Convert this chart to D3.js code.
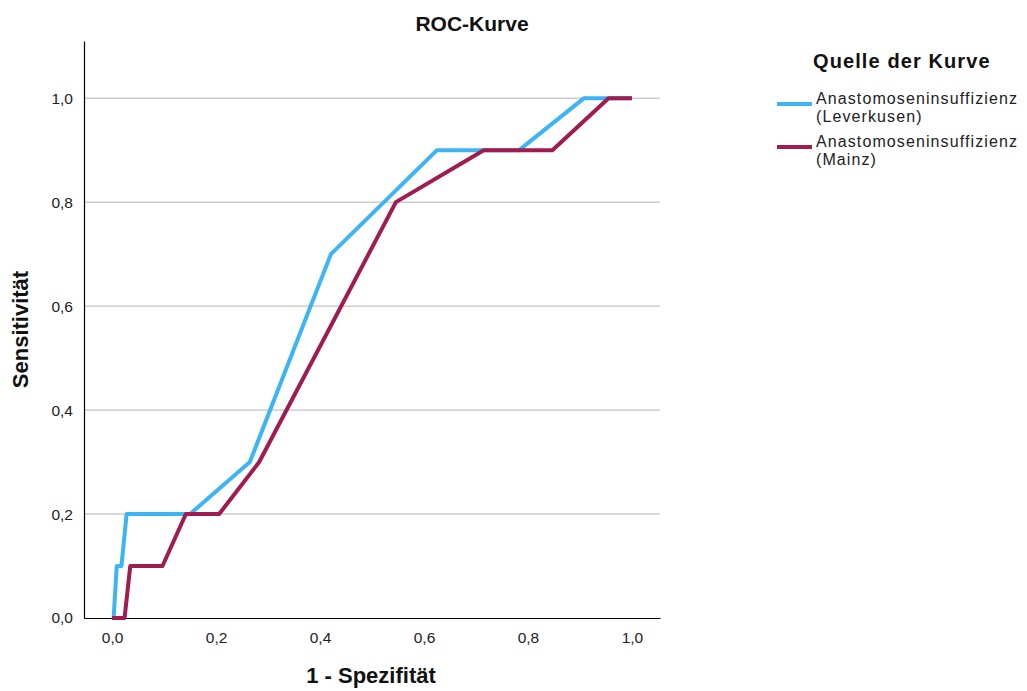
<!DOCTYPE html>
<html>
<head>
<meta charset="utf-8">
<script src="https://cdn.jsdelivr.net/npm/d3@7"></script>
<style>
  html, body { margin: 0; padding: 0; background: #fff; }
  svg { display: block; font-family: "Liberation Sans", Arial, sans-serif; }
</style>
</head>
<body>
<svg id="chart" width="1027" height="691"></svg>
<script>
// ROC curves: false positive rate (1 - specificity) vs. sensitivity
const seriesNames = ["Anastomoseninsuffizienz (Leverkusen)", "Anastomoseninsuffizienz (Mainz)"];
const legendLines = [["Anastomoseninsuffizienz", "(Leverkusen)"], ["Anastomoseninsuffizienz", "(Mainz)"]];
const leverkusenFpr = [0.003, 0.009, 0.018, 0.028, 0.150, 0.265, 0.421, 0.625, 0.783, 0.908, 1.000];
const leverkusenSens = [0.0, 0.1, 0.1, 0.2, 0.2, 0.3, 0.7, 0.9, 0.9, 1.0, 1.0];
const mainzFpr = [0.000, 0.024, 0.035, 0.097, 0.142, 0.206, 0.283, 0.546, 0.715, 0.847, 0.955, 1.000];
const mainzSens = [0.0, 0.0, 0.1, 0.1, 0.2, 0.2, 0.3, 0.8, 0.9, 0.9, 1.0, 1.0];
const tickValues = [0, 0.2, 0.4, 0.6, 0.8, 1.0];
const tickLabels = ["0,0", "0,2", "0,4", "0,6", "0,8", "1,0"];
const colors = ["#3DB5F5", "#A01B50"];

const svg = d3.select("#chart");
const plotLeft = 84, plotRight = 660, plotTop = 41, plotBottom = 618;

const x = d3.scaleLinear().domain([-0.054, 1.054]).range([plotLeft, plotRight]);
const y = d3.scaleLinear().domain([0, 1.11]).range([plotBottom, plotTop]);

// horizontal gridlines
svg.append("g")
  .selectAll("line")
  .data(tickValues.filter(v => v > 0))
  .join("line")
  .attr("x1", plotLeft).attr("x2", plotRight)
  .attr("y1", d => y(d)).attr("y2", d => y(d))
  .attr("stroke", "#b4b4b4").attr("stroke-width", 1);

// axes
const fmt = d => tickLabels[tickValues.indexOf(d)];
const xAxis = svg.append("g")
  .attr("transform", `translate(0,${plotBottom})`)
  .call(d3.axisBottom(x).tickValues(tickValues).tickFormat(fmt).tickSize(0).tickPadding(14));
const yAxis = svg.append("g")
  .attr("transform", `translate(${plotLeft},0)`)
  .call(d3.axisLeft(y).tickValues(tickValues).tickFormat(fmt).tickSize(0).tickPadding(11));
[xAxis, yAxis].forEach(g => {
  g.select(".domain").attr("stroke", "#000").attr("stroke-width", 1.2);
  g.selectAll("text").attr("font-size", "15.5px").attr("fill", "#222")
    .attr("font-family", "'Liberation Sans', Arial, sans-serif");
});

// curves
const line = d3.line().x(d => x(d[0])).y(d => y(d[1]));
const curves = [
  d3.zip(leverkusenFpr, leverkusenSens),
  d3.zip(mainzFpr, mainzSens)
];
svg.append("g")
  .selectAll("path")
  .data(curves)
  .join("path")
  .attr("d", line)
  .attr("fill", "none")
  .attr("stroke", (d, i) => colors[i])
  .attr("stroke-width", 4)
  .attr("stroke-linejoin", "round");

// titles
svg.append("text")
  .attr("x", 472).attr("y", 31)
  .attr("text-anchor", "middle")
  .attr("font-size", "21px").attr("font-weight", "bold").attr("fill", "#111")
  .text("ROC-Kurve");

svg.append("text")
  .attr("x", 371).attr("y", 683)
  .attr("text-anchor", "middle")
  .attr("font-size", "22px").attr("font-weight", "bold").attr("fill", "#111")
  .text("1 - Spezifität");

svg.append("text")
  .attr("transform", `translate(28,${(plotTop + plotBottom) / 2}) rotate(-90)`)
  .attr("text-anchor", "middle")
  .attr("font-size", "22px").attr("font-weight", "bold").attr("fill", "#111")
  .text("Sensitivität");

// legend
const legend = svg.append("g");
legend.append("text")
  .attr("x", 813).attr("y", 68)
  .attr("font-size", "20px").attr("font-weight", "bold").attr("fill", "#111")
  .attr("letter-spacing", "1.1px")
  .text("Quelle der Kurve");

const item = legend.selectAll("g.item")
  .data(seriesNames)
  .join("g")
  .attr("class", "item")
  .attr("transform", (d, i) => `translate(0,${104 + i * 43})`);
item.append("line")
  .attr("x1", 777).attr("x2", 812)
  .attr("y1", 0).attr("y2", 0)
  .attr("stroke", (d, i) => colors[i]).attr("stroke-width", 4);
item.each(function(d, i) {
  const t = d3.select(this).append("text")
    .attr("x", 816).attr("y", 0)
    .attr("font-size", "16px").attr("fill", "#222")
    .attr("letter-spacing", "1.1px");
  legendLines[i].forEach((s, k) => {
    t.append("tspan").attr("x", 816).attr("dy", k === 0 ? 0 : 18).text(s);
  });
});
</script>
</body>
</html>
